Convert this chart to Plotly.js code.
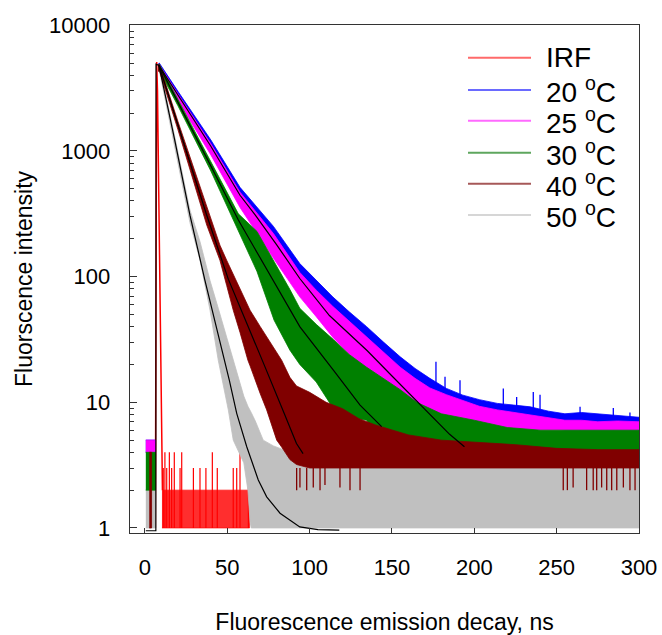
<!DOCTYPE html>
<html>
<head>
<meta charset="utf-8">
<script src="https://cdn.plot.ly/plotly-3.0.1.min.js"></script>
<style>html,body{margin:0;padding:0;background:#fff;}#chart{width:662px;height:635px;}</style>
</head>
<body>
<div id="chart"></div>
<script>
// ---------------- data ----------------
const X_TICKS = [0, 50, 100, 150, 200, 250, 300];
const Y_TICKS = [1, 10, 100, 1000, 10000];
const LEGEND_LABELS = ['IRF', '20 <sup>o</sup>C', '25 <sup>o</sup>C', '30 <sup>o</sup>C', '40 <sup>o</sup>C', '50 <sup>o</sup>C'];

// IRF (instrument response)
const IRF_X = [6.3, 6.9, 7.1, 7.6, 8.1, 8.6, 9.1, 9.6, 10.1, 10.6];
const IRF_Y = [1, 300, 5100, 3000, 800, 120, 45, 13, 5, 2];
const IRF_FLOOR_X = [10.3, 63.5];
const IRF_FLOOR_HI = [2, 2];
const IRF_FLOOR_LO = [1, 1];
const IRF_SPIKE_X = [11.1, 12.1, 13.2, 14.8, 16.2, 17.8, 21.3, 22.3, 29.4, 33.4, 37.0, 40.9, 43.9, 53.6, 55.7, 57.7, 62.8];
const IRF_SPIKE_Y = [3, 4, 3, 4, 3, 4, 3, 4, 3, 3, 3, 4, 3, 3, 3, 4, 3];

// pre-pulse background counts (x range, upper, lower)
const PRE_X = [0.5, 6.4];
const PRE_20_HI = [5, 5], PRE_20_LO = [4, 4];
const PRE_25_HI = [5, 5], PRE_25_LO = [4, 4];
const PRE_30_HI = [4, 4], PRE_30_LO = [2, 2];
const PRE_40_X = [2.6, 4.0];
const PRE_40_HI = [4, 4], PRE_40_LO = [1, 1];
const PRE_50_HI = [2, 2], PRE_50_LO = [1, 1];

// 20 C decay: noise band envelope
const D20_X  = [8.0, 8.7, 20, 40, 57.7, 78, 94, 104, 114, 124, 134.6, 145, 155, 164, 173, 183, 193, 203, 214, 224, 234, 245, 255, 265, 275, 287, 300];
const D20_HI = [4900, 5000, 2985, 1222, 513, 251, 127, 93, 69, 52.5, 40, 30, 23, 18.6, 15.5, 12.9, 11.4, 10.5, 9.8, 9.5, 9.2, 8.5, 8.1, 8.3, 8.1, 7.9, 7.6];
const D20_LO = [4400, 4500, 2600, 1000, 400, 170, 90, 64, 45, 34, 26, 19, 15, 12, 10, 9, 8, 7.5, 7, 6.8, 6.5, 6.3, 6, 6, 6, 6, 6];
// isolated high counts above the 20 C band
const S20_X = [176.7, 182.2, 191.3, 217.6, 225.7, 235.8, 239.9, 264.2, 284.4, 294.5];
const S20_Y = [21, 16, 15, 12.9, 11, 12.1, 11.5, 9.2, 9, 8.3];

// 25 C decay
const D25_X  = [8.0, 8.7, 20, 40, 57.7, 78, 94, 104, 114, 124, 134.6, 145, 155, 164, 173, 183, 193, 203, 214, 224, 234, 245, 255, 265, 275, 287, 300];
const D25_HI = [4800, 4850, 2850, 1140, 470, 220, 108, 78, 58, 44, 33, 25, 19, 15.5, 13, 11.5, 10.3, 9.3, 8.7, 8.3, 8, 7.5, 7.2, 7.2, 7, 7.1, 7];
const D25_LO = [4300, 4400, 2480, 930, 355, 140, 69, 48, 33, 24, 17, 13, 10, 8.5, 7.5, 6.7, 6.2, 6, 6, 6, 6, 6, 6, 6, 6, 6, 6];

// 30 C decay
const D30_X  = [8.0, 8.7, 20, 40, 56.7, 68, 78.4, 88, 94, 104, 114.4, 124, 134.6, 143.7, 155, 165, 180, 200, 220, 240, 260, 280, 300];
const D30_HI = [4800, 4900, 2570, 832, 316, 229, 132, 79, 56, 41.7, 31.6, 24, 19, 15.8, 12.6, 10, 8.1, 7.2, 6.3, 6, 6, 6, 6];
const D30_LO = [4300, 4366, 2290, 692, 229, 110, 45, 26, 20, 14.5, 8.9, 7.6, 7.2, 5, 3.5, 3.5, 3.5, 3.5, 3.5, 3.5, 3.5, 3.5, 3.5];

// 40 C decay
const D40_X  = [8.0, 8.7, 20, 37.5, 45.5, 49.6, 53.6, 57.7, 62.5, 63.8, 70, 73.9, 80, 83, 88, 92, 100, 110, 120, 130, 140, 160, 180, 200, 225, 250, 275, 300];
const D40_HI = [4800, 4900, 1718, 355, 178, 135, 105, 79, 59, 54, 40, 33, 25, 21.6, 15.8, 13.5, 12, 10, 8.9, 7.4, 6.6, 5.5, 5, 4.8, 4.6, 4.3, 4.2, 4.2];
const D40_LO = [4300, 4366, 1479, 257, 135, 85, 54, 36, 21.6, 19.5, 11.7, 8.7, 5, 4.4, 3.5, 3.2, 3, 3, 3, 3, 3, 3, 3, 3, 3, 3, 3, 3];
// low excursions (counts of 2) of the 40 C tail
const DIP40_X = [92.1, 94.1, 98.2, 102.2, 106.3, 109.3, 118.4, 124.5, 130.6, 254, 256.5, 260, 268.2, 272.2, 274.3, 277.3, 280.4, 283.4, 286.5, 290.5, 294.5, 297.6];
const DIP40_Y = [2, 2.1, 2, 2.1, 2, 2.2, 2.1, 2, 2, 2, 2, 2.1, 2, 2, 2, 2.1, 2, 2, 2, 2.1, 2, 2];

// 50 C decay
const D50_X  = [8.0, 8.7, 18, 27.3, 33.4, 36.4, 39.5, 44.5, 50.6, 53.6, 57, 60, 62.5, 63.8, 64.5, 67, 71.8, 78, 84, 95, 110, 120, 300];
const D50_HI = [4800, 4900, 1318, 339, 190, 135, 93, 56, 29.5, 21.6, 15.5, 11.2, 9.3, 8.7, 8.3, 7.1, 5, 4.5, 4.2, 4, 3.5, 3, 3];
const D50_LO = [4300, 4366, 1122, 269, 135, 85, 54, 21.6, 8.7, 5, 4, 3.3, 2, 1.12, 1, 1, 1, 1, 1, 1, 1, 1, 1];

// fitted curves (black)
const FIT20_X = [8.5, 20, 40, 57.7, 67, 80, 94, 112, 135, 150, 173, 185, 194];
const FIT20_Y = [4786, 2786, 1089, 444, 308, 179, 96.6, 49, 25.7, 16.2, 7.94, 5.56, 4.43];
const FIT30_X = [8.5, 20, 40, 56.7, 78.4, 94.1, 114.4, 130.6, 143.7];
const FIT30_Y = [4786, 2455, 759, 282, 91.2, 39.8, 18.0, 9.5, 6.4];
const FIT40_X = [8.5, 20, 37.5, 50.6, 60, 72, 85, 92, 96];
const FIT40_Y = [4786, 1622, 308, 95.5, 49, 20.4, 7.9, 4.7, 3.9];
const FIT50_X = [0.5, 6.6, 6.7, 8.5, 18, 27.3, 36.4, 43.9, 51.2, 55.7, 61.8, 68.8, 73.9, 82, 94, 105, 118];
const FIT50_Y = [0.95, 0.95, 4900, 4786, 1230, 308, 93.5, 37.5, 15.0, 8.17, 4.43, 2.41, 1.77, 1.31, 1.02, 0.97, 0.96];

// ---------------- drawing ----------------
const C = {irf:'#ff0000', c20:'#0000ff', c25:'#ff00ff', c30:'#008000', c40:'#800000', c50:'#c0c0c0'};
const LEG_COLORS = ['#ff6a6a', '#6a6aff', '#ff6aff', '#5ea65e', '#a65858', '#d6d6d6'];

function poly(segments) {
  const X = [], Y = [];
  segments.forEach((s, i) => {
    if (i) { X.push(null); Y.push(null); }
    X.push(...s[0], ...s[0].slice().reverse());
    Y.push(...s[1], ...s[2].slice().reverse());
  });
  return {x: X, y: Y};
}
function band(segments, color, fillColor) {
  const p = poly(segments);
  return {type:'scatter', mode:'lines', x:p.x, y:p.y, fill:'toself',
    fillcolor: fillColor || color, line:{color: color, width:0.8},
    hoverinfo:'skip', showlegend:false};
}
function spikes(xs, ys, base, color, width) {
  const X = [], Y = [];
  xs.forEach((v, i) => { X.push(v, v, null); Y.push(base, ys[i], null); });
  return {type:'scatter', mode:'lines', x:X, y:Y, line:{color:color, width:width},
    hoverinfo:'skip', showlegend:false};
}
function fit(x, y) {
  return {type:'scatter', mode:'lines', x:x, y:y, line:{color:'#000', width:1.2},
    hoverinfo:'skip', showlegend:false};
}

const traces = [
  band([[IRF_FLOOR_X, IRF_FLOOR_HI, IRF_FLOOR_LO]], 'rgba(255,0,0,0.82)'),
  spikes(IRF_SPIKE_X, IRF_SPIKE_Y, 1, C.irf, 1.2),
  {type:'scatter', mode:'lines', x:IRF_X, y:IRF_Y, line:{color:C.irf, width:1.5}, hoverinfo:'skip', showlegend:false},
  band([[PRE_X, PRE_50_HI, PRE_50_LO], [D50_X, D50_HI, D50_LO]], C.c50),
  band([[PRE_X, PRE_20_HI, PRE_20_LO], [D20_X, D20_HI, D20_LO]], C.c20),
  spikes(S20_X, S20_Y, 6, C.c20, 1.3),
  band([[PRE_X, PRE_25_HI, PRE_25_LO], [D25_X, D25_HI, D25_LO]], C.c25),
  band([[PRE_X, PRE_30_HI, PRE_30_LO], [D30_X, D30_HI, D30_LO]], C.c30),
  band([[PRE_40_X, PRE_40_HI, PRE_40_LO], [D40_X, D40_HI, D40_LO]], C.c40),
  spikes(DIP40_X, DIP40_Y, 3, C.c40, 1.3),
  fit(FIT20_X, FIT20_Y),
  fit(FIT30_X, FIT30_Y),
  fit(FIT40_X, FIT40_Y),
  fit(FIT50_X, FIT50_Y)
];

// legend drawn as lines + text inside the plot
const legRowsPx = [57.7, 90, 120.7, 152.7, 183.7, 215];
const plotTop = 25, plotH = 508, plotL = 130, plotW = 509;
const shapes = [], annotations = [];
LEGEND_LABELS.forEach((lab, i) => {
  const yp = 1 - (legRowsPx[i] - plotTop) / plotH;
  shapes.push({type:'line', xref:'paper', yref:'paper', x0:(468 - plotL) / plotW, x1:(531 - plotL) / plotW,
    y0:yp, y1:yp, line:{color:LEG_COLORS[i], width:2}});
  annotations.push({xref:'paper', yref:'paper', x:(544 - plotL) / plotW, y:yp, xanchor:'left', yanchor:'middle',
    text:lab, showarrow:false, font:{size:28, color:'#000'}});
});

const minorVals = [];
[1, 10, 100, 1000].forEach(d => { for (let k = 2; k <= 9; k++) minorVals.push(k * d); });

const layout = {
  width:662, height:635,
  margin:{l:130, r:23, t:25, b:102},
  paper_bgcolor:'#fff', plot_bgcolor:'#fff',
  font:{family:'"Liberation Sans", Arial, sans-serif', color:'#000'},
  showlegend:false,
  xaxis:{
    range:[-9.1, 300], tickmode:'array', tickvals:X_TICKS, ticktext:X_TICKS.map(String),
    ticks:'inside', ticklen:5, tickwidth:1, tickcolor:'#333',
    showline:true, linecolor:'#333', linewidth:1.3, mirror:true,
    showgrid:false, zeroline:false, tickfont:{size:22}, ticklabelstandoff:14,
    title:{text:'Fluorescence emission decay, ns', font:{size:23}, standoff:36}
  },
  yaxis:{
    type:'log', range:[-0.04, 4.002], tickmode:'array', tickvals:Y_TICKS, ticktext:Y_TICKS.map(String),
    ticks:'inside', ticklen:7, tickwidth:1, tickcolor:'#333',
    minor:{tickmode:'array', tickvals:minorVals, ticks:'inside', ticklen:4, tickwidth:1, tickcolor:'#333', showgrid:false},
    showline:true, linecolor:'#333', linewidth:1.3, mirror:true,
    showgrid:false, zeroline:false, tickfont:{size:22}, ticklabelstandoff:14,
    title:{text:'Fluorscence intensity', font:{size:23}, standoff:10}
  },
  shapes:shapes, annotations:annotations
};
Plotly.newPlot('chart', traces, layout, {staticPlot:true, displayModeBar:false});
</script>
</body>
</html>
